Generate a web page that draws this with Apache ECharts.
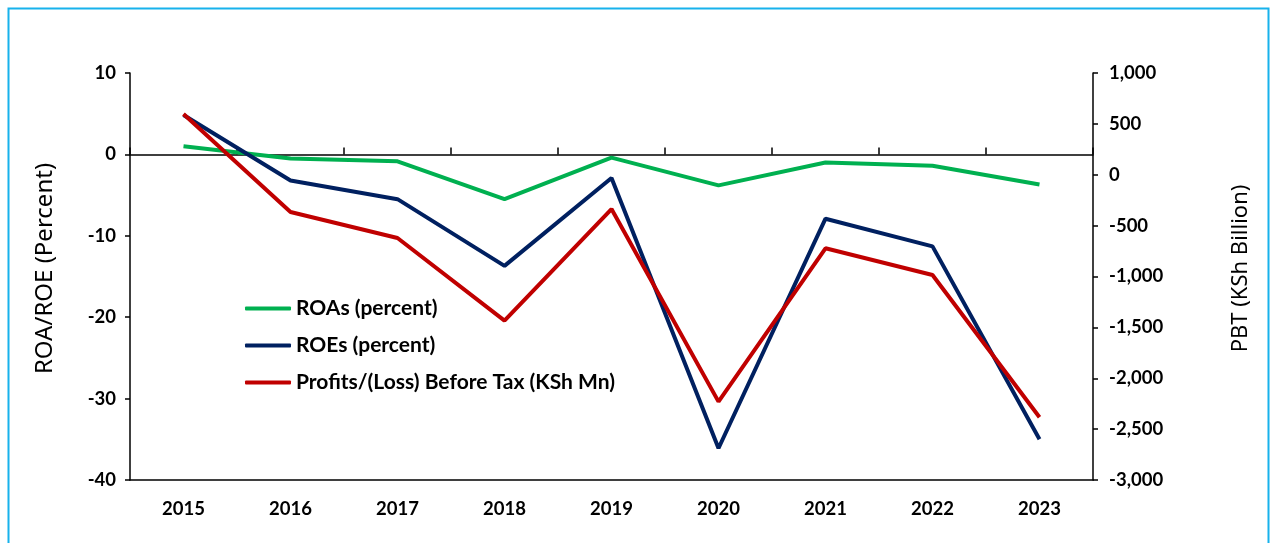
<!DOCTYPE html>
<html>
<head>
<meta charset="utf-8">
<script src="https://cdn.jsdelivr.net/npm/echarts@6/dist/echarts.min.js"></script>
<style>
html,body{margin:0;padding:0;background:#fff;}
#chart{width:1272px;height:543px;}
</style>
</head>
<body>
<div id="chart"></div>
<script>
const years = ['2015','2016','2017','2018','2019','2020','2021','2022','2023'];
const roa = [1.0, -0.5, -0.85, -5.5, -0.4, -3.8, -1.0, -1.4, -3.7];
const roe = [4.85, -3.2, -5.5, -13.7, -2.9, -36.1, -7.9, -11.3, -35.0];
const pbt = [597, -366, -622, -1434, -337, -2230, -723, -985, -2384];
const leftTicks = {min: -40, max: 10, interval: 10};
const rightTicks = {min: -3000, max: 1000, interval: 500};
const seriesNames = ['ROAs (percent)', 'ROEs (percent)', 'Profits/(Loss) Before Tax (KSh Mn)'];

const FONT = 'Lato, "Open Sans", sans-serif';
const NAMEFONT = '"Noto Sans", "Open Sans", sans-serif';
const chart = echarts.init(document.getElementById('chart'), null, {renderer: 'canvas'});
const lbl = {color: '#000', fontWeight: 'bold', fontSize: 18.5, fontFamily: FONT};
chart.setOption({
  animation: false,
  backgroundColor: '#fff',
  graphic: [{
    type: 'rect', left: 6, top: 6, silent: true,
    shape: {width: 1260, height: 560},
    style: {fill: 'none', stroke: '#17b2ec', lineWidth: 2}
  }],
  grid: {left: 130, right: 179, top: 73, bottom: 63},
  legend: {
    orient: 'vertical', left: 240, top: 293, itemGap: 16,
    itemWidth: 46, itemHeight: 4,
    textStyle: {color: '#000', fontWeight: 'bold', fontSize: 21, fontFamily: FONT},
    data: seriesNames.map(n => ({name: n, icon: 'roundRect'}))
  },
  xAxis: [{
    type: 'category', data: years, position: 'bottom',
    axisLine: {onZero: false, show: true, lineStyle: {color: '#000', width: 1.5}},
    axisTick: {show: false},
    axisLabel: Object.assign({margin: 20}, lbl),
    splitLine: {show: false}
  }, {
    type: 'category', data: years, position: 'top',
    axisLine: {onZero: true, onZeroAxisIndex: 0, show: true, lineStyle: {color: '#000', width: 1.5}},
    axisTick: {show: true, length: 7, lineStyle: {color: '#000', width: 1.5}},
    axisLabel: {show: false},
    splitLine: {show: false}
  }],
  yAxis: [{
    type: 'value', position: 'left',
    min: leftTicks.min, max: leftTicks.max, interval: leftTicks.interval,
    name: 'ROA/ROE (Percent)', nameLocation: 'middle', nameGap: 73, nameRotate: 90,
    nameTextStyle: {color: '#000', fontSize: 24, fontFamily: NAMEFONT, padding: [0, 0, 0, 16]},
    axisLine: {show: true, lineStyle: {color: '#000', width: 1.5}},
    axisTick: {show: true, length: 5, lineStyle: {color: '#000', width: 1.5}},
    axisLabel: Object.assign({margin: 14}, lbl),
    splitLine: {show: false}
  }, {
    type: 'value', position: 'right',
    min: rightTicks.min, max: rightTicks.max, interval: rightTicks.interval,
    name: 'PBT (KSh Billion)', nameLocation: 'middle', nameGap: 137, nameRotate: 90,
    nameTextStyle: {color: '#000', fontSize: 22, fontFamily: NAMEFONT, padding: [0, 0, 0, 16]},
    axisLine: {show: true, lineStyle: {color: '#000', width: 1.5}},
    axisTick: {show: true, length: 5, lineStyle: {color: '#000', width: 1.5}},
    axisLabel: Object.assign({margin: 16, formatter: v => v.toLocaleString('en-US')}, lbl),
    splitLine: {show: false}
  }],
  series: [{
    name: seriesNames[0], type: 'line', data: roa, yAxisIndex: 0, xAxisIndex: 0,
    symbol: 'none', color: '#00b050', lineStyle: {width: 4, color: '#00b050'}
  }, {
    name: seriesNames[1], type: 'line', data: roe, yAxisIndex: 0, xAxisIndex: 0,
    symbol: 'none', color: '#002060', lineStyle: {width: 4, color: '#002060'}
  }, {
    name: seriesNames[2], type: 'line', data: pbt, yAxisIndex: 1, xAxisIndex: 0,
    symbol: 'none', color: '#c00000', lineStyle: {width: 4, color: '#c00000'}
  }]
});
</script>
</body>
</html>
